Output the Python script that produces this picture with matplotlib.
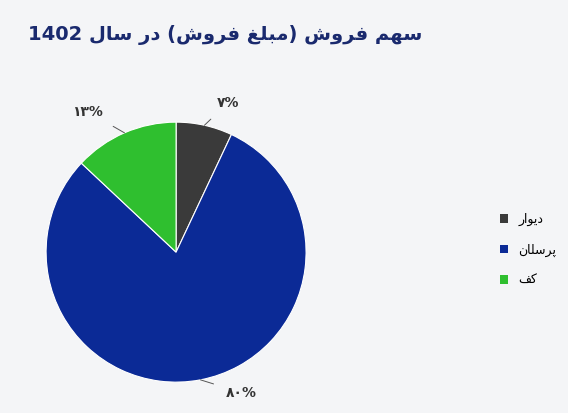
import numpy as np
import matplotlib
matplotlib.use("Agg")
import matplotlib.pyplot as plt
from matplotlib.patches import Patch

plt.rcParams['font.family'] = ['DejaVu Sans', 'Noto Sans']

# Visual-order Arabic presentation forms (no shaping engine available)
sal = "\uFEDD\uFE8E\uFEB3"
dar = "\uFEAD\uFEA9"
forush = "\uFEB5\uFEED\uFEAE\uFED3"
mablagh = "\uFECE\uFEE0\uFE92\uFEE3"
sahm = "\uFEE2\uFEEC\uFEB3"
title = f"1402 {sal} {dar} ({forush} {mablagh}) {forush} {sahm}"

categories = ["\uFEAD\uFE8D\uFEEE\uFBFE\uFEA9",            # دیوار
              "\uFEE5\uFE8E\uFEE0\uFEB3\uFEAE\uFB58",      # پرسلان
              "\uFED2\uFB90"]                              # کف
values = [7, 80, 13]
pct_labels = ["\u06F7%", "\u06F8\u06F0%", "\u06F1\u06F3%"]
colors = ["#3a3a3a", "#0b2a96", "#2fbf2f"]

fig = plt.figure(figsize=(5.68, 4.13), dpi=100)
fig.patch.set_facecolor("#f4f5f7")
ax = fig.add_axes([0.0695, 0.059, 0.481, 0.661])
ax.set_facecolor("#f4f5f7")
wedges, _ = ax.pie(values, colors=colors, startangle=90, counterclock=False,
                   wedgeprops=dict(linewidth=0.8, edgecolor="white"))
ax.set_aspect("equal")
offsets = {0: (0.4, 1.15), 1: (0.5, -1.08), 2: (-0.68, 1.08)}
for i, w in enumerate(wedges):
    ang = np.deg2rad((w.theta1 + w.theta2) / 2)
    x, y = np.cos(ang), np.sin(ang)
    tx, ty = offsets[i]
    ax.annotate(pct_labels[i], xy=(x, y), xytext=(tx, ty), ha="center", va="center",
                fontsize=10, fontweight="bold", color="#333333",
                arrowprops=dict(arrowstyle="-", color="#555555", lw=0.7, shrinkA=7, shrinkB=0),
                annotation_clip=False)
ax.set_xlim(-1.05, 1.05); ax.set_ylim(-1.05, 1.05)

handles = [Patch(facecolor=c) for c in colors]
fig.legend(handles, categories, loc="center left", bbox_to_anchor=(0.86, 0.395),
           frameon=False, fontsize=9, handlelength=0.7, handleheight=0.7,
           labelspacing=1.4)
fig.text(0.05, 0.915, title, fontsize=14, fontweight="bold", color="#1a2a6e", ha="left", va="center")
fig.savefig("out.png", dpi=100, facecolor=fig.get_facecolor())
